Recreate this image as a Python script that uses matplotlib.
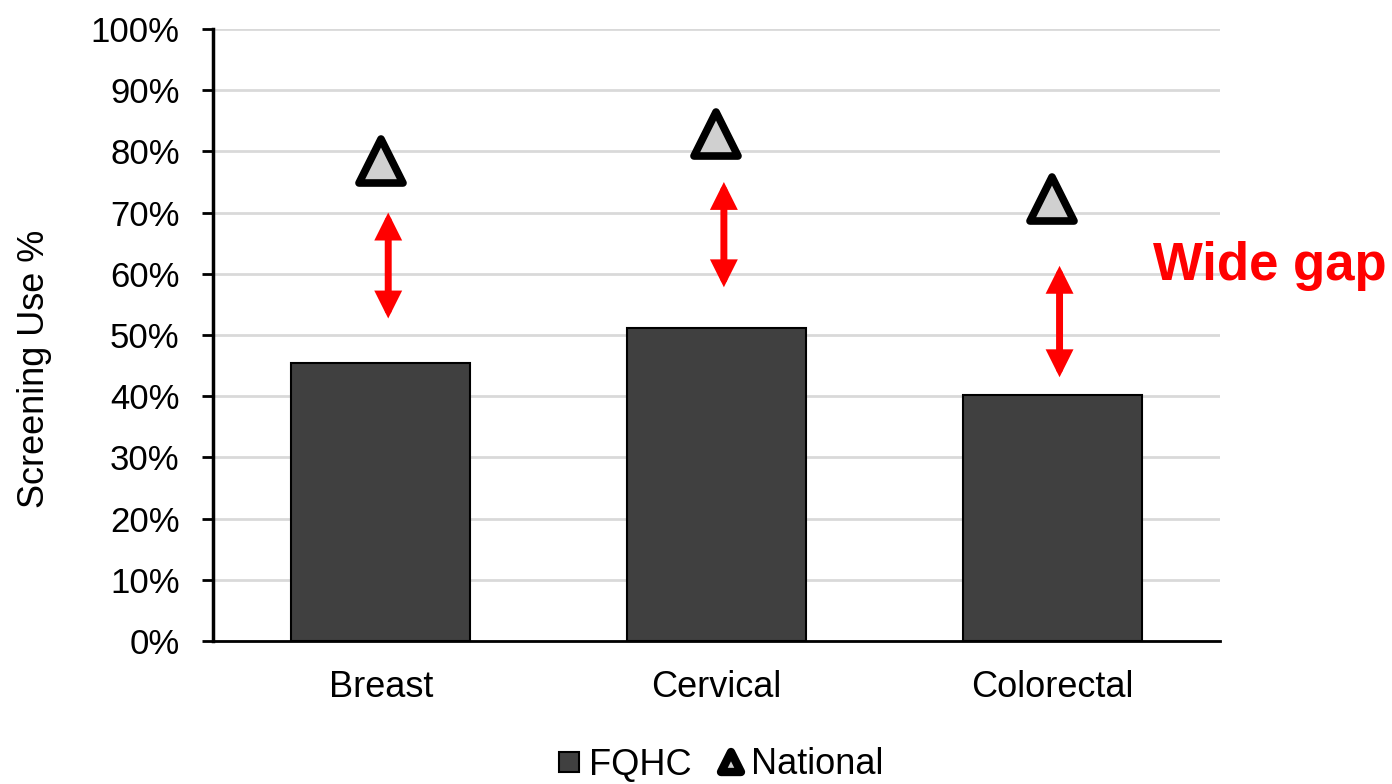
import matplotlib
matplotlib.use("Agg")
import matplotlib.pyplot as plt
from matplotlib.lines import Line2D
from matplotlib.patches import ArrowStyle
from matplotlib.markers import MarkerStyle

plt.rcParams['font.family'] = ['Liberation Sans', 'DejaVu Sans']

categories = ["Breast", "Cervical", "Colorectal"]
fqhc = [45.4, 51.1, 40.2]
national = [78.5, 82.8, 72.3]
gap_top = [70.0, 75.0, 61.3]
gap_bottom = [52.7, 57.8, 43.1]
yticks = [0, 10, 20, 30, 40, 50, 60, 70, 80, 90, 100]
ytick_labels = [f"{v}%" for v in yticks]

fig = plt.figure(figsize=(13.92, 7.84), dpi=100)
ax = fig.add_axes([213/1392, 1-641/784, 1007/1392, 612/784])

tri = MarkerStyle("^", joinstyle="round")

x = list(range(len(categories)))
ax.bar(x, fqhc, width=0.533, color="#404040", edgecolor="black", linewidth=1.5, zorder=2)
ax.plot(x, national, linestyle="none", marker=tri, markersize=31, markerfacecolor="#d0d0d0",
        markeredgecolor="black", markeredgewidth=5.5, zorder=4)

astyle = ArrowStyle("<|-|>", head_length=1.0, head_width=0.5)
for xi, t, b in zip(x, gap_top, gap_bottom):
    ax.annotate("", xy=(xi + 0.022, t), xytext=(xi + 0.022, b),
                arrowprops=dict(arrowstyle=astyle, color="red", lw=5, mutation_scale=12,
                                shrinkA=0, shrinkB=0, joinstyle="miter"), zorder=3)

ax.set_xlim(-0.5, 2.5)
ax.set_ylim(0, 100)
ax.set_yticks(yticks)
ax.set_yticklabels(ytick_labels, fontsize=25)
ax.set_xticks(x)
ax.set_xticklabels(categories, fontsize=26)
ax.tick_params(axis="x", length=0, pad=21)
ax.tick_params(axis="y", length=8, width=2, pad=16, direction="out")
ax.yaxis.grid(True, color="#d9d9d9", linewidth=2, zorder=0)
ax.set_axisbelow(True)
for s in ["top", "right"]:
    ax.spines[s].set_visible(False)
ax.spines["left"].set_linewidth(2.5)
ax.spines["bottom"].set_linewidth(2)
ax.set_ylabel("Screening Use %", fontsize=26)
ax.yaxis.label.set_va("center")
ax.yaxis.set_label_coords(-0.177, 0.444)

fig.text(1153/1392, 1-266/784, "Wide gap", color="red", fontsize=38, fontweight="bold",
         ha="left", va="center")

handles = [
    Line2D([], [], linestyle="none", marker="s", markersize=14, markerfacecolor="#404040",
           markeredgecolor="black", markeredgewidth=1.5),
    Line2D([], [], linestyle="none", marker=MarkerStyle("^", joinstyle="round"), markersize=14,
           markerfacecolor="#d0d0d0", markeredgecolor="black", markeredgewidth=6),
]
fig.legend(handles, ["FQHC", "National"], loc="center", bbox_to_anchor=(721/1392, 1-765/784),
           ncol=2, frameon=False, fontsize=26, handlelength=0.6, handletextpad=0.25,
           columnspacing=0.8, borderpad=0)

fig.savefig("out.png", dpi=100)
